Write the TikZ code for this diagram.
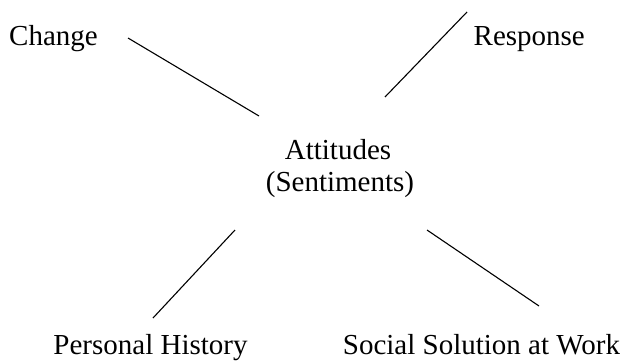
\documentclass[tikz,border=0pt]{standalone}
\usepackage{fontspec}
\setmainfont{Liberation Serif}
\usepackage{tikz}

\begin{document}
\begin{tikzpicture}
[x=1pt,y=1pt,
 t/.style={inner sep=0pt,font=\fontsize{29}{32}\selectfont},
 l/.style={line width=1.1pt}]
\useasboundingbox (0,0) rectangle (626,360);
\node[t,anchor=base west] (change) at (9,315) {Change};
\node[t,anchor=base west] (response) at (473.5,315) {Response};
\node[t,anchor=base] (att) at (338,201) {Attitudes};
\node[t,anchor=base] (sent) at (340,169) {(Sentiments)};
\node[t,anchor=base] (history) at (150.5,6) {Personal History};
\node[t,anchor=base] (social) at (481.5,6) {Social Solution at Work};
\coordinate (a1) at (128,322);
\coordinate (a2) at (259,244);
\coordinate (b1) at (467,348);
\coordinate (b2) at (385,263);
\coordinate (c1) at (235,130);
\coordinate (c2) at (153,42);
\coordinate (d1) at (427,130);
\coordinate (d2) at (539,54);
\draw[l] (a1) -- (a2);
\draw[l] (b1) -- (b2);
\draw[l] (c1) -- (c2);
\draw[l] (d1) -- (d2);
\end{tikzpicture}
\end{document}
